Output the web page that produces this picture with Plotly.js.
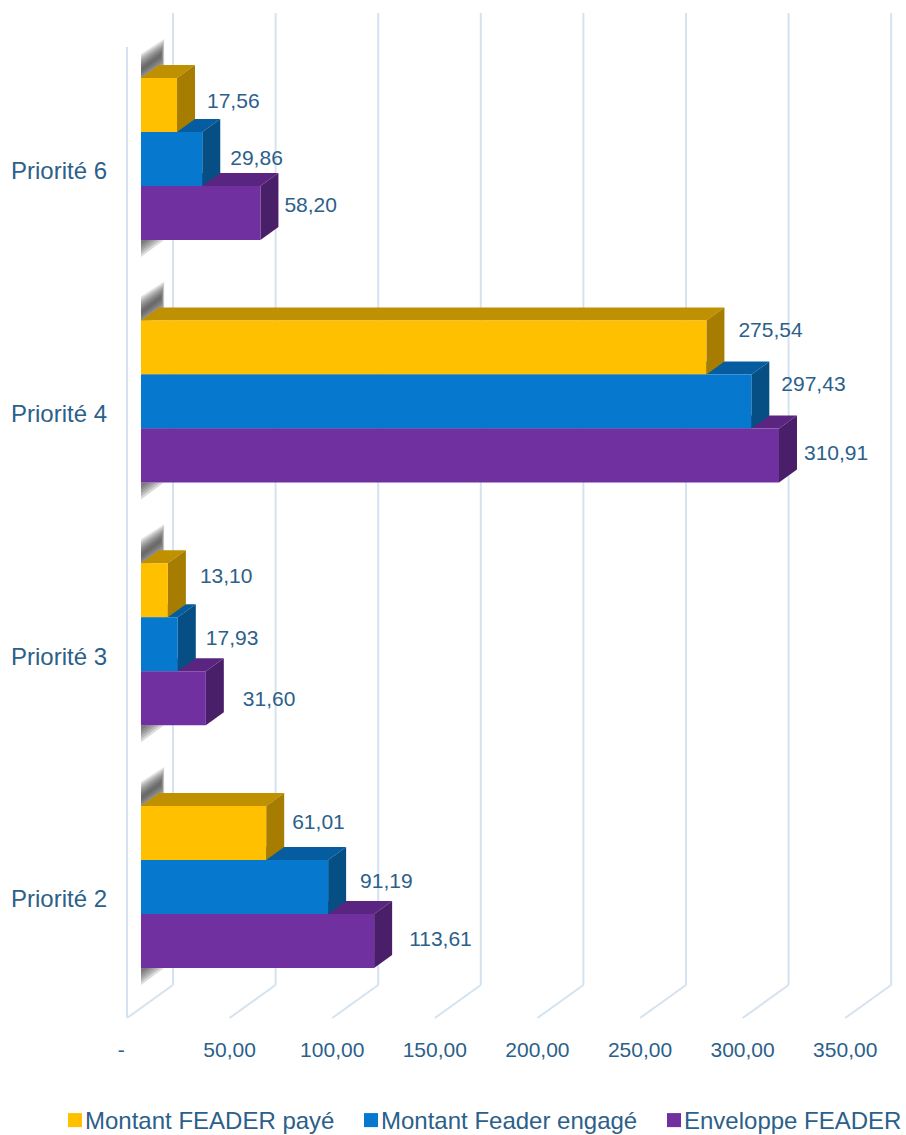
<!DOCTYPE html>
<html><head><meta charset="utf-8">
<script src="https://cdn.plot.ly/plotly-3.0.1.min.js"></script>
<style>html,body{margin:0;padding:0;background:#fff}</style></head>
<body><div id="chart" style="width:906px;height:1135px"></div>
<script>
// Data (bottom group first)
const categories = ['Priorité 2','Priorité 3','Priorité 4','Priorité 6'];
const montantPaye = [61.01,13.10,275.54,17.56];
const montantEngage = [91.19,17.93,297.43,29.86];
const enveloppe = [113.61,31.60,310.91,58.20];
const axisValues = [0,50,100,150,200,250,300,350];
const axisLabels = ['-\u00a0\u00a0','50,00','100,00','150,00','200,00','250,00','300,00','350,00'];

// Per-label nudges (pixels)
const labelGapX = {paye:[8,14,14,12], engage:[14,10,12,10], env:[17,19,7,6]};
const labelGapY = {paye:[-9,-13,-16,-2], engage:[-4,-5,-16,1], env:[0,2,-1,-6]};

// Geometry
const W=906,H=1135,L=108,B=1035;
const pxPerUnit=2.052, zeroPx=141, groupPx=242.7, group0Px=887;
const barPx=54, depthX=18, depthY=13;
const dx=p=>p/pxPerUnit;
const dy=p=>p/groupPx;               // positive p = upward
const yFromPx=p=>(group0Px-p)/groupPx;
const xRange=[(L-zeroPx)/pxPerUnit,(W-zeroPx)/pxPerUnit];
const yRange=[yFromPx(B),yFromPx(0)];

const C={ink:'#2C5F8A',grid:'#D5E3F0',
 yellow:{f:'#FFC000',t:'#BF9000',s:'#A67D00'},
 blue:{f:'#0679CF',t:'#055C9E',s:'#054F85'},
 purple:{f:'#7030A0',t:'#5A2580',s:'#4A1F69'}};

const series=[
 {name:'Montant FEADER payé',vals:montantPaye,col:C.yellow,off:1,key:'paye',legend:'legend',lx:45},
 {name:'Montant Feader engagé',vals:montantEngage,col:C.blue,off:0,key:'engage',legend:'legend2',lx:341},
 {name:'Enveloppe FEADER',vals:enveloppe,col:C.purple,off:-1,key:'env',legend:'legend3',lx:644}];

const shapes=[];
const poly=(pts,fill,op)=>shapes.push({type:'path',xref:'x',yref:'y',layer:'below',
  path:'M'+pts.map(p=>p[0]+','+p[1]).join('L')+'Z',fillcolor:fill,opacity:op===undefined?1:op,line:{width:0}});
const seg=(x0,y0,x1,y1,w,col)=>shapes.push({type:'line',xref:'x',yref:'y',layer:'below',x0,y0,x1,y1,line:{color:col,width:w}});

// 3D walls
const backX=dx(32), frontX=dx(-14);
axisValues.forEach(v=>{
  seg(v+backX,yFromPx(13),v+backX,yFromPx(985),2,C.grid);
  seg(v+backX,yFromPx(985),v+frontX,yFromPx(1018),2,C.grid);
});
seg(frontX,yFromPx(47),frontX,yFromPx(1018),2,C.grid);

// Soft shadows behind each group
categories.forEach((c,i)=>{
  const top=i+dy(barPx*1.5), bot=i-dy(barPx*1.5);
  [16,14,12,10,8,6,4,2].forEach(t=>{
    const e=t/5;
    poly([[dx(0),top+dy(8-t)],[dx(0),top+dy(8+t)],[dx(20+e),top+dy(23+t)],[dx(20+e),top+dy(23-t)]],'#333333',.15);
  });
  [[23,17],[19,14],[15,11],[11,8],[7,5]].forEach(([w,h])=>{
    poly([[dx(0),bot],[dx(w),bot],[dx(0),bot-dy(h)]],'#333333',.18);
  });
});

// 3D faces of the bars (bottom bar first, so upper side faces overlap lower top faces)
series.slice().reverse().forEach(s=>s.vals.forEach((v,i)=>{
  const yT=i+(s.off+.5)*dy(barPx), yB=i+(s.off-.5)*dy(barPx);
  const ox=dx(depthX), oy=dy(depthY);
  poly([[0,yT],[ox,yT+oy],[v+ox,yT+oy],[v,yT]],s.col.t);
  poly([[v,yT],[v+ox,yT+oy],[v+ox,yB+oy],[v,yB]],s.col.s);
}));

const idx=categories.map((c,i)=>i);
const traces=series.map(s=>({type:'bar',orientation:'h',name:s.name,x:s.vals,y:idx,legend:s.legend,
  width:dy(barPx),offset:(s.off-.5)*dy(barPx),base:0,
  marker:{color:s.col.f,line:{width:0}},hoverinfo:'x+name'}));
series.forEach(s=>traces.push({type:'scatter',mode:'text',showlegend:false,hoverinfo:'skip',
  x:s.vals.map((v,i)=>v+dx(depthX+labelGapX[s.key][i])),
  y:idx.map(i=>i+s.off*dy(barPx)-dy(labelGapY[s.key][i])),
  text:s.vals.map(v=>v.toFixed(2).replace('.',',')),
  textposition:'middle right',cliponaxis:false,
  textfont:{family:'Liberation Sans',size:21,color:C.ink}}));

const layout={
  width:W,height:H,margin:{l:L,r:0,t:0,b:H-B,autoexpand:false},
  paper_bgcolor:'#fff',plot_bgcolor:'rgba(0,0,0,0)',barmode:'overlay',
  font:{family:'Liberation Sans',color:C.ink},
  showlegend:true,
  xaxis:{range:xRange,showgrid:false,zeroline:false,showline:false,
    tickmode:'array',tickvals:axisValues.map(v=>v+frontX),ticktext:axisLabels,
    ticks:'',tickfont:{size:21,color:C.ink},automargin:false},
  yaxis:{range:yRange,showgrid:false,zeroline:false,showline:false,
    tickmode:'array',tickvals:idx.map(i=>i-dy(12)),ticktext:categories,
    ticks:'',tickfont:{size:24,color:C.ink},automargin:false},
  shapes:shapes
};
series.forEach(s=>{layout[s.legend]={orientation:'h',xref:'container',yref:'container',
  x:s.lx/W,y:1-1098/H,xanchor:'left',yanchor:'top',font:{size:24,color:C.ink},
  itemwidth:30,bgcolor:'rgba(0,0,0,0)'};});

Plotly.newPlot('chart',traces,layout,{displayModeBar:false,responsive:false}).then(gd=>{
  // legend swatches sit closer to their labels in the reference
  gd.querySelectorAll('.legendpoints').forEach(g=>g.setAttribute('transform','translate(6.6,0) scale(1.17)'));
});
</script></body></html>
